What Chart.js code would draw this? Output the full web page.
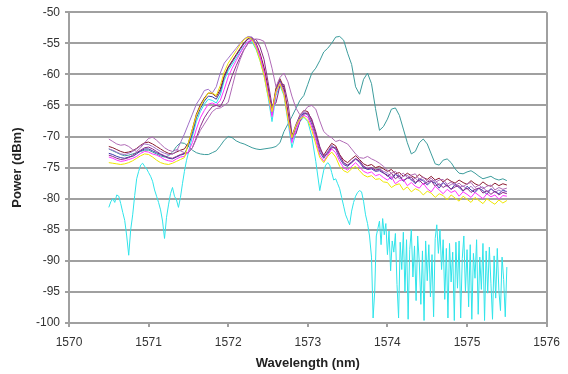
<!DOCTYPE html>
<html>
<head>
<meta charset="utf-8">
<title>Power vs Wavelength</title>
<script src="https://cdn.jsdelivr.net/npm/chart.js@4.4.1/dist/chart.umd.min.js"></script>
<style>
    html, body { margin: 0; padding: 0; background: #fff; }
    #chart-wrap { width: 568px; height: 374px; }
</style>
</head>
<body>
<div id="chart-wrap"><canvas id="spectrumChart" width="568" height="374"></canvas></div>
<script>
// --- Data (nm, dBm) ---

const xTicks = [1570, 1571, 1572, 1573, 1574, 1575, 1576];
const yTicks = [-100, -95, -90, -85, -80, -75, -70, -65, -60, -55, -50];

// shared wavelength grid for the clustered traces
const wavelengths = [
    1570.50, 1570.55, 1570.60, 1570.65, 1570.70, 1570.75, 1570.80, 1570.85, 1570.90, 1570.95,
    1571.00, 1571.05, 1571.10, 1571.15, 1571.20, 1571.25, 1571.30, 1571.35, 1571.40, 1571.45,
    1571.50, 1571.55, 1571.60, 1571.65, 1571.70, 1571.75, 1571.80, 1571.85, 1571.90, 1571.95,
    1572.00, 1572.05, 1572.10, 1572.15, 1572.20, 1572.25, 1572.30, 1572.35, 1572.40, 1572.45,
    1572.50, 1572.55, 1572.60, 1572.65, 1572.70, 1572.75, 1572.80, 1572.85, 1572.90, 1572.95,
    1573.00, 1573.05, 1573.10, 1573.15, 1573.20, 1573.25, 1573.30, 1573.35, 1573.40, 1573.45,
    1573.50, 1573.55, 1573.60, 1573.65, 1573.70, 1573.75, 1573.80, 1573.85, 1573.90, 1573.95,
    1574.00, 1574.05, 1574.10, 1574.15, 1574.20, 1574.25, 1574.30, 1574.35, 1574.40, 1574.45,
    1574.50, 1574.55, 1574.60, 1574.65, 1574.70, 1574.75, 1574.80, 1574.85, 1574.90, 1574.95,
    1575.00, 1575.05, 1575.10, 1575.15, 1575.20, 1575.25, 1575.30, 1575.35, 1575.40, 1575.45,
    1575.50
];

const navyDb = [
    -72.7, -72.9, -73.2, -73.4, -73.5, -73.3, -73.2, -72.8, -72.3, -72.0,
    -72.0, -72.3, -72.6, -72.9, -73.2, -73.5, -73.6, -73.3, -73.0, -72.8,
    -71.5, -69.5, -67.0, -65.5, -64.3, -63.5, -63.6, -64.0, -62.8, -60.5,
    -59.0, -58.0, -57.0, -56.0, -55.0, -54.3, -54.3, -55.3, -57.0, -59.3,
    -62.5, -66.5, -62.5, -61.0, -62.5, -66.5, -70.5, -68.5, -67.0, -66.2,
    -66.5, -68.0, -70.0, -72.5, -73.5, -72.5, -71.6, -72.0, -73.5, -74.5,
    -74.8, -74.2, -73.6, -74.2, -75.0, -75.3, -75.2, -75.6, -75.5, -75.9,
    -76.2, -76.9, -76.1, -76.4, -77.2, -76.6, -76.9, -77.6, -76.8, -77.1,
    -77.8, -77.2, -77.5, -78.3, -77.4, -77.9, -78.5, -77.7, -78.2, -78.8,
    -78.0, -78.6, -79.0, -78.3, -78.7, -79.3, -78.4, -78.9, -79.2, -78.6,
    -78.9
];

const magentaDb = [
    -73.3, -73.5, -73.8, -74.0, -73.9, -73.7, -73.5, -73.2, -72.7, -72.4,
    -72.5, -72.8, -73.0, -73.3, -73.7, -73.9, -74.0, -73.6, -73.3, -73.2,
    -72.4, -71.0, -68.8, -67.0, -65.8, -64.8, -64.6, -64.9, -64.2, -62.4,
    -60.4, -59.0, -57.8, -56.6, -55.5, -54.7, -54.5, -55.4, -57.2, -59.6,
    -63.0, -66.8, -63.0, -61.4, -63.0, -67.0, -71.0, -69.0, -67.4, -66.6,
    -66.9, -68.5, -70.6, -73.0, -74.0, -73.0, -72.0, -72.6, -74.0, -75.0,
    -75.4, -74.8, -74.2, -74.9, -75.6, -75.9, -75.7, -76.3, -76.1, -76.6,
    -77.0, -76.5, -77.6, -77.1, -76.9, -77.9, -77.4, -78.0, -78.3, -77.5,
    -78.4, -78.9, -78.0, -78.6, -79.2, -78.5, -79.0, -78.7, -79.6, -78.9,
    -79.3, -79.8, -79.0, -79.5, -80.0, -79.2, -79.7, -79.4, -80.1, -79.5,
    -79.6
];

const yellowDb = [
    -74.2, -74.3, -74.4, -74.5, -74.4, -74.2, -73.9, -73.5, -73.1, -72.8,
    -72.9, -73.3, -73.8, -74.2, -74.4, -74.5, -74.3, -74.0, -73.7, -73.4,
    -71.0, -68.8, -66.6, -65.2, -64.0, -63.0, -63.0, -63.4, -61.8, -59.6,
    -58.2, -57.2, -56.2, -55.2, -54.4, -54.0, -54.4, -55.8, -57.8, -60.2,
    -63.4, -66.0, -62.7, -61.5, -63.2, -67.2, -70.2, -68.3, -67.2, -66.8,
    -67.4, -69.0, -71.2, -73.4, -74.2, -73.2, -72.5, -73.3, -74.8, -75.5,
    -75.8, -75.2, -74.8, -75.5, -76.2, -76.5, -76.3, -76.9, -76.8, -77.3,
    -77.4, -78.2, -77.8, -77.6, -78.6, -78.1, -78.9, -78.4, -78.7, -79.4,
    -78.8, -79.1, -79.8, -79.2, -79.5, -80.2, -79.4, -79.9, -80.4, -79.6,
    -80.1, -80.6, -79.8, -80.3, -80.8, -80.0, -80.5, -80.9, -80.2, -80.7,
    -80.3
];

const purpleDb = [
    -73.0, -73.2, -73.5, -73.7, -73.6, -73.4, -73.0, -72.6, -72.2, -71.8,
    -71.7, -72.0, -72.4, -72.8, -73.1, -73.4, -73.5, -73.2, -72.9, -72.7,
    -72.6, -71.8, -70.2, -68.4, -67.0, -66.0, -65.2, -65.0, -65.2, -64.0,
    -62.0, -60.2, -58.6, -57.2, -56.0, -55.0, -54.3, -54.4, -55.6, -57.6,
    -61.2, -65.0, -64.6, -61.8, -61.6, -64.5, -69.5, -69.6, -67.6, -66.4,
    -66.2, -67.2, -69.2, -71.6, -73.2, -72.8, -71.8, -71.8, -73.0, -74.2,
    -74.6, -74.2, -73.6, -73.9, -74.8, -75.2, -75.0, -75.4, -75.3, -75.8,
    -76.4, -75.9, -76.8, -76.3, -77.1, -76.7, -76.5, -77.4, -77.0, -77.7,
    -77.3, -77.1, -78.0, -77.6, -78.2, -77.8, -78.5, -78.1, -77.9, -78.7,
    -78.3, -79.0, -78.5, -78.3, -79.1, -78.7, -79.3, -78.8, -79.4, -79.0,
    -79.2
];

const maroonDb = [
    -71.6, -71.8, -72.1, -72.4, -72.6, -72.5, -72.3, -71.9, -71.4, -71.0,
    -70.9, -71.2, -71.6, -72.0, -72.4, -72.7, -72.8, -72.5, -72.2, -72.0,
    -71.0, -68.8, -66.4, -64.9, -63.8, -63.0, -63.1, -63.6, -62.4, -60.2,
    -58.8, -57.8, -56.8, -55.8, -54.9, -54.2, -54.1, -55.0, -56.6, -58.9,
    -62.0, -66.0, -62.2, -60.7, -62.1, -66.0, -70.0, -68.1, -66.6, -65.8,
    -66.0, -67.5, -69.6, -72.0, -73.0, -72.0, -71.1, -71.5, -72.9, -73.8,
    -74.2, -73.6, -73.1, -73.7, -74.4, -74.7, -74.5, -75.0, -74.8, -75.2,
    -75.6, -75.3, -76.0, -75.8, -76.4, -75.9, -76.3, -76.7, -76.1, -76.6,
    -76.9, -76.4, -77.0, -76.7, -77.3, -76.8, -77.2, -77.5, -77.0, -77.4,
    -77.7, -77.1, -77.6, -77.9, -77.3, -77.8, -78.0, -77.5, -77.9, -77.6,
    -77.8
];

// later trace, peak shifted to ~1572.4 nm
const plumDb = [
    -70.4, -70.8, -71.2, -71.4, -71.3, -71.6, -72.1, -72.4, -71.8, -71.0,
    -70.3, -70.1, -70.6, -71.2, -71.8, -72.2, -72.4, -72.1, -72.3, -72.6,
    -72.6, -71.8, -70.4, -69.0, -68.0, -67.0, -66.0, -65.5, -65.4, -65.0,
    -64.5, -62.0, -59.5, -57.6, -56.0, -55.0, -54.5, -54.3, -54.4, -54.7,
    -56.5, -59.0, -62.0, -60.5, -59.8, -61.2, -63.5, -65.4, -66.5, -66.0,
    -65.2, -65.0, -65.6, -67.5, -69.2, -69.8, -70.2, -70.8, -70.6, -70.9,
    -71.2, -72.0, -72.8, -73.4, -73.5, -73.2, -73.6, -73.9, -74.3, -74.8,
    -75.4, -75.9, -75.6, -76.3, -75.9, -76.6, -76.2, -76.0, -76.9, -76.5,
    -77.2, -76.7, -77.4, -77.0, -76.9, -77.7, -77.3, -77.9, -77.5, -78.1,
    -77.6, -77.4, -78.2, -77.8, -78.4, -78.0, -77.8, -78.6, -78.2, -78.5,
    -78.3
];

// earliest trace on the rising edge
const lavenderDb = [
    -72.0, -72.2, -72.5, -72.8, -72.9, -72.7, -72.4, -72.0, -71.5, -71.2,
    -71.3, -71.6, -72.0, -72.4, -72.7, -72.9, -72.8, -72.4, -71.0, -69.6,
    -68.0, -66.4, -64.8, -63.8, -62.6, -62.4, -63.0, -62.0, -59.8, -58.2,
    -57.4, -56.6, -55.8, -55.0, -54.3, -53.9, -54.0, -55.2, -57.0, -59.6,
    -62.8, -66.2, -62.8, -61.2, -62.8, -66.8, -70.2, -68.2, -66.8, -66.0,
    -66.4, -67.8, -70.0, -72.2, -73.3, -72.4, -71.4, -71.9, -73.3, -74.3,
    -74.6, -74.0, -73.5, -74.0, -74.8, -75.1, -75.0, -75.4, -75.2, -75.6,
    -75.9, -76.5, -76.0, -76.8, -76.4, -76.2, -77.1, -76.7, -77.3, -76.9,
    -77.6, -77.2, -77.0, -77.9, -77.4, -78.1, -77.7, -77.5, -78.3, -77.9,
    -78.5, -78.0, -78.7, -78.3, -78.1, -78.9, -78.4, -79.0, -78.6, -79.0,
    -78.8
];

// trace with its peak moved out to ~1573.35 nm
const tealDb = [
    -72.0, -72.3, -72.6, -72.9, -73.1, -73.0, -72.8, -72.6, -72.4, -72.2,
    -72.2, -72.5, -72.8, -73.1, -73.3, -73.1, -72.5, -71.6, -71.0, -71.1,
    -71.6, -72.2, -72.6, -72.8, -72.9, -72.9, -72.6, -72.3, -71.5, -70.6,
    -70.0, -70.2, -70.7, -71.0, -71.2, -71.5, -71.8, -72.0, -72.1, -72.0,
    -71.9, -71.8, -71.6, -71.0, -69.2, -68.0, -66.8, -65.5, -64.2, -63.4,
    -61.6, -59.8, -59.0, -57.8, -56.4, -55.8, -55.0, -54.0, -53.9, -54.5,
    -56.6, -58.4, -62.0, -63.2, -60.8, -59.8, -61.5, -65.5, -69.0, -68.4,
    -67.2, -65.6, -65.4, -66.6, -68.8, -71.0, -72.8, -72.4, -71.0, -70.4,
    -71.2, -72.8, -74.4, -74.6, -73.8, -73.6, -74.2, -75.2, -75.9, -76.0,
    -75.7, -75.5, -75.9, -76.4, -76.8, -76.6, -76.4, -76.8, -77.0, -76.8,
    -77.1
];

// noisy low-level trace, sampled more finely
const cyanWl = [
    1570.500, 1570.525, 1570.550, 1570.575, 1570.600, 1570.625, 1570.650, 1570.675, 1570.700, 1570.725,
    1570.750, 1570.775, 1570.800, 1570.825, 1570.850, 1570.875, 1570.900, 1570.925, 1570.950, 1570.975,
    1571.000, 1571.025, 1571.050, 1571.075, 1571.100, 1571.125, 1571.150, 1571.175, 1571.200, 1571.225,
    1571.250, 1571.275, 1571.300, 1571.325, 1571.350, 1571.375, 1571.400, 1571.425, 1571.450, 1571.475,
    1571.500, 1571.550, 1571.600, 1571.650, 1571.700, 1571.750, 1571.800, 1571.850, 1571.900, 1571.950,
    1572.000, 1572.050, 1572.100, 1572.150, 1572.200, 1572.250, 1572.300, 1572.350, 1572.400, 1572.450,
    1572.500, 1572.550, 1572.600, 1572.650, 1572.700, 1572.750, 1572.800, 1572.850, 1572.900, 1572.950,
    1573.000, 1573.050, 1573.100, 1573.150, 1573.175, 1573.200, 1573.225, 1573.250, 1573.275, 1573.300,
    1573.325, 1573.350, 1573.375, 1573.400, 1573.425, 1573.450, 1573.475, 1573.500, 1573.525, 1573.550,
    1573.575, 1573.600, 1573.625, 1573.650, 1573.675, 1573.700, 1573.725, 1573.750, 1573.775, 1573.800,
    1573.820, 1573.840, 1573.860, 1573.880, 1573.900, 1573.920, 1573.940, 1573.960, 1573.980, 1574.000,
    1574.020, 1574.040, 1574.060, 1574.080, 1574.100, 1574.120, 1574.140, 1574.160, 1574.180, 1574.200,
    1574.220, 1574.240, 1574.260, 1574.280, 1574.300, 1574.320, 1574.340, 1574.360, 1574.380, 1574.400,
    1574.420, 1574.440, 1574.460, 1574.480, 1574.500, 1574.520, 1574.540, 1574.560, 1574.580, 1574.600,
    1574.620, 1574.640, 1574.660, 1574.680, 1574.700, 1574.720, 1574.740, 1574.760, 1574.780, 1574.800,
    1574.820, 1574.840, 1574.860, 1574.880, 1574.900, 1574.920, 1574.940, 1574.960, 1574.980, 1575.000,
    1575.020, 1575.040, 1575.060, 1575.080, 1575.100, 1575.120, 1575.140, 1575.160, 1575.180, 1575.200,
    1575.220, 1575.240, 1575.260, 1575.280, 1575.300, 1575.320, 1575.340, 1575.360, 1575.380, 1575.400,
    1575.420, 1575.440, 1575.460, 1575.480, 1575.500
];

const cyanDb = [
    -81.4, -80.5, -80.0, -80.6, -79.4, -79.6, -80.8, -82.2, -83.5, -86.0,
    -89.1, -85.0, -82.6, -79.5, -76.8, -75.6, -74.6, -74.3, -74.8, -75.2,
    -75.8, -76.4, -77.2, -78.6, -79.6, -80.6, -81.8, -83.6, -86.4, -83.0,
    -81.0, -79.2, -78.2, -79.6, -80.2, -81.4, -79.8, -77.6, -75.6, -73.9,
    -72.6, -70.0, -67.6, -66.0, -64.8, -64.0, -64.2, -64.6, -63.4, -61.0,
    -59.4, -58.4, -57.4, -56.4, -55.4, -54.7, -54.8, -56.0, -57.8, -60.2,
    -63.6, -67.6, -63.4, -61.8, -63.4, -67.6, -71.8, -69.4, -67.6, -66.9,
    -67.6, -70.0, -74.0, -78.7, -77.0, -75.4, -74.6, -74.2, -74.6, -75.8,
    -77.0, -76.8, -77.6, -78.4, -79.8, -81.2, -82.6, -83.4, -84.2, -82.0,
    -80.6, -79.6, -79.0, -78.7, -78.9, -80.4, -82.6, -84.0, -86.0, -89.4,
    -99.2, -95.0, -86.0, -84.8, -83.6, -87.4, -83.2, -85.8, -84.0, -89.0,
    -85.2, -91.6, -86.8, -88.6, -85.6, -93.8, -99.2, -87.0, -91.4, -85.4,
    -95.0, -86.6, -99.4, -88.2, -85.0, -92.6, -87.6, -96.4, -86.0, -90.2,
    -97.0, -88.4, -99.6, -86.8, -93.2, -87.4, -95.8, -89.0, -99.0, -86.4,
    -84.2, -88.8, -85.0, -91.4, -86.6, -96.2, -88.0, -99.2, -87.2, -93.4,
    -88.6, -99.6, -87.0, -94.4, -86.8, -99.2, -89.6, -86.0, -95.0, -88.2,
    -97.4, -87.4, -99.4, -88.8, -92.8, -86.6, -98.6, -89.4, -94.6, -87.2,
    -99.6, -88.4, -95.2, -87.8, -93.6, -99.4, -89.2, -96.0, -88.0, -94.8,
    -98.0, -89.4, -93.0, -99.0, -91.0
];

const GRID_GREY = '#a0a0a0';
const TEXT_GREY = '#333333';
const FONT_FAMILY = '"Liberation Sans", Arial, sans-serif';

function toPoints(xs, ys) {
    return ys.map((y, i) => ({ x: xs[i], y: y }));
}

function makeTrace(label, xs, ys, color) {
    return {
        label: label,
        data: toPoints(xs, ys),
        borderColor: color,
        backgroundColor: color,
        borderWidth: 1,
        pointRadius: 0,
        fill: false,
        tension: 0
    };
}

function renderSpectrumChart() {
    const ctx = document.getElementById('spectrumChart')?.getContext('2d');
    if (!ctx) return;

    // dataset 0 ends up on top
    const datasets = [
        makeTrace('yellow', wavelengths, yellowDb, '#eee600'),
        makeTrace('magenta', wavelengths, magentaDb, '#ff33ff'),
        makeTrace('plum', wavelengths, plumDb, '#b06ab6'),
        makeTrace('purple', wavelengths, purpleDb, '#8a2a8a'),
        makeTrace('lavender', wavelengths, lavenderDb, '#a070c8'),
        makeTrace('maroon', wavelengths, maroonDb, '#8a1a30'),
        makeTrace('navy', wavelengths, navyDb, '#3a3aa8'),
        makeTrace('cyan', cyanWl, cyanDb, '#30e4ea'),
        makeTrace('teal', wavelengths, tealDb, '#3c9c9c')
    ];

    new Chart(ctx, {
        type: 'line',
        data: { datasets: datasets },
        options: {
            responsive: false,
            animation: false,
            layout: { padding: { top: 11, right: 20, bottom: 0, left: 0 } },
            plugins: {
                legend: { display: false },
                tooltip: { enabled: false }
            },
            scales: {
                x: {
                    type: 'linear',
                    min: xTicks[0],
                    max: xTicks[xTicks.length - 1],
                    afterBuildTicks: scale => { scale.ticks = xTicks.map(v => ({ value: v })); },
                    afterFit: scale => { scale.height = 51; },
                    ticks: {
                        padding: 8,
                        color: TEXT_GREY,
                        font: { family: FONT_FAMILY, size: 12 },
                        callback: v => String(v)
                    },
                    grid: {
                        drawOnChartArea: true,
                        // only the right-hand frame edge is drawn across the plot
                        color: c => (c.tick && c.tick.value === xTicks[xTicks.length - 1]) ? GRID_GREY : 'rgba(0,0,0,0)',
                        lineWidth: 2,
                        tickColor: GRID_GREY,
                        tickLength: 4
                    },
                    border: { display: true, color: GRID_GREY, width: 2 },
                    title: {
                        display: true,
                        text: 'Wavelength (nm)',
                        color: '#222',
                        font: { family: FONT_FAMILY, size: 13, weight: 'bold' },
                        padding: { top: 0, bottom: 3 }
                    }
                },
                y: {
                    type: 'linear',
                    min: yTicks[0],
                    max: yTicks[yTicks.length - 1],
                    afterBuildTicks: scale => { scale.ticks = yTicks.map(v => ({ value: v })); },
                    afterFit: scale => { scale.width = 69; },
                    ticks: {
                        padding: 5,
                        color: TEXT_GREY,
                        font: { family: FONT_FAMILY, size: 12 },
                        callback: v => String(v)
                    },
                    grid: {
                        color: GRID_GREY,
                        lineWidth: 2,
                        tickColor: GRID_GREY,
                        tickLength: 4
                    },
                    border: { display: true, color: GRID_GREY, width: 2 },
                    title: {
                        display: true,
                        text: 'Power (dBm)',
                        color: '#222',
                        font: { family: FONT_FAMILY, size: 13, weight: 'bold' },
                        padding: { top: 10, bottom: 0 }
                    }
                }
            }
        }
    });
}

document.addEventListener('DOMContentLoaded', function() {
    renderSpectrumChart();
});
</script>
</body>
</html>
